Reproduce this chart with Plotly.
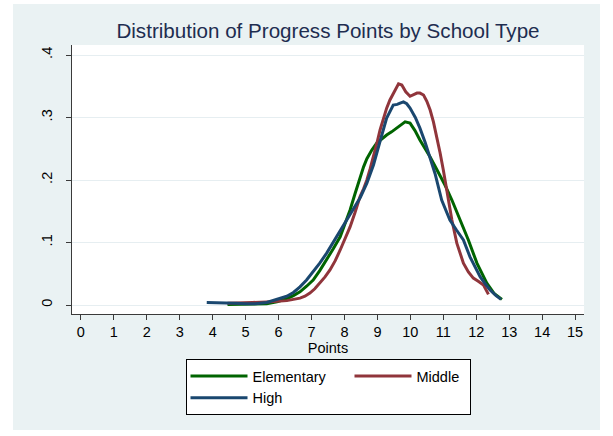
import plotly.graph_objects as go

# --- data (kernel density of progress points) ---
elem_x = [4.45, 4.62, 5.0, 5.3, 5.64, 5.95, 6.25, 6.45, 6.65, 6.85, 7.05, 7.25, 7.46, 7.66,
          7.87, 8.02, 8.17, 8.32, 8.47, 8.58, 8.68, 8.83, 8.98, 9.13, 9.28, 9.43, 9.59,
          9.72, 9.84, 9.99, 10.14, 10.29, 10.45, 10.6, 10.75, 10.9, 11.05, 11.26, 11.51,
          11.76, 12.02, 12.32, 12.55, 12.78]
elem_y = [.001, .001, .001, .001, .002, .005, .010, .015, .021, .030, .040, .055, .072, .090,
          .109, .130, .152, .178, .204, .221, .234, .248, .259, .266, .272, .277, .283,
          .289, .293, .291, .279, .264, .251, .237, .222, .208, .192, .168, .136,
          .104, .067, .035, .018, .009]

mid_x = [4.45, 4.8, 5.2, 5.64, 6.0, 6.25, 6.45, 6.65, 6.8, 6.95, 7.1, 7.26, 7.41, 7.56, 7.72,
         7.87, 8.02, 8.17, 8.32, 8.47, 8.58, 8.68, 8.78, 8.88, 8.98, 9.08, 9.18, 9.28, 9.38,
         9.48, 9.56, 9.64, 9.74, 9.86, 9.99, 10.1, 10.2, 10.29, 10.4, 10.5, 10.6, 10.7, 10.8,
         10.9, 11.0, 11.1, 11.26, 11.41, 11.61, 11.76, 11.91, 12.06, 12.22, 12.37]
mid_y = [.003, .003, .004, .005, .006, .007, .009, .011, .014, .019, .026, .035, .045, .056, .071,
         .088, .106, .125, .148, .173, .186, .200, .218, .237, .258, .280, .298, .315, .328,
         .339, .347, .354, .352, .341, .334, .336, .339, .339, .336, .326, .312, .293, .270,
         .244, .216, .185, .136, .099, .067, .053, .043, .038, .032, .017]

high_x = [3.82, 4.1, 4.42, 4.7, 5.0, 5.3, 5.64, 5.95, 6.25, 6.45, 6.65, 6.85, 7.05, 7.25, 7.46,
          7.66, 7.87, 8.07, 8.27, 8.48, 8.68, 8.88, 9.08, 9.28, 9.48, 9.6, 9.69, 9.79, 9.89,
          9.99, 10.15, 10.29, 10.45, 10.6, 10.75, 10.95, 11.2, 11.4, 11.61, 11.81, 12.0,
          12.12, 12.3, 12.42, 12.6, 12.75]
high_y = [.004, .004, .004, .003, .002, .002, .004, .009, .014, .020, .029, .040, .053, .067, .083,
          .100, .118, .135, .152, .172, .195, .224, .262, .299, .320, .321, .323, .325, .322,
          .315, .300, .283, .260, .235, .210, .168, .136, .120, .104, .077, .057,
          .045, .032, .024, .015, .009]

x_ticks = list(range(16))
y_ticks = [0, 0.1, 0.2, 0.3, 0.4]
y_ticktext = ["0", ".1", ".2", ".3", ".4"]

FONT = "Arial, Liberation Sans, sans-serif"
BG = "#eaf2f3"
AXIS = "#3a3a3a"

fig = go.Figure()
fig.add_trace(go.Scatter(x=elem_x, y=elem_y, mode="lines", name="Elementary",
                         legendgroup="a", legendwidth=92,
                         line=dict(color="#006400", width=3)))
fig.add_trace(go.Scatter(x=mid_x, y=mid_y, mode="lines", name="Middle",
                         legendgroup="b", legendwidth=48,
                         line=dict(color="#90353b", width=3)))
fig.add_trace(go.Scatter(x=high_x, y=high_y, mode="lines", name="High",
                         legendgroup="a", legendwidth=92,
                         line=dict(color="#1a476f", width=3)))

# light graph-region background (Stata s2color look), white plot region on top
fig.add_shape(type="rect", xref="paper", yref="paper", layer="below",
              x0=(13 - 72) / 512, x1=(600 - 72) / 512,
              y0=(314 - 430) / 269, y1=(314 - 4) / 269,
              fillcolor=BG, line=dict(width=0))
fig.add_shape(type="rect", xref="paper", yref="paper", layer="below",
              x0=0, x1=1, y0=0, y1=1, fillcolor="white", line=dict(width=0))

fig.update_layout(
    width=613, height=436,
    margin=dict(l=72, r=29, t=45, b=122, autoexpand=False),
    paper_bgcolor="white", plot_bgcolor="white",
    font=dict(family=FONT, size=14.5, color="black"),
    title=dict(text="Distribution of Progress Points by School Type",
               font=dict(family=FONT, size=20.6, color="#1e2d50"),
               x=0.5, xref="paper", xanchor="center",
               y=1 - 31 / 436, yref="container", yanchor="middle"),
    legend=dict(orientation="h", traceorder="grouped", tracegroupgap=0,
                x=0.5, xanchor="center", y=(314 - 359) / 269, yanchor="top",
                bgcolor="white", bordercolor="black", borderwidth=1,
                itemwidth=57, font=dict(family=FONT, size=14.5, color="black")),
    showlegend=True,
)
fig.update_xaxes(range=[-0.27, 15.27], tickvals=x_ticks, ticks="outside", ticklen=5,
                 tickcolor=AXIS, showline=True, linecolor=AXIS, linewidth=1,
                 showgrid=False, zeroline=False,
                 title=dict(text="Points", standoff=2, font=dict(size=14.5)))
fig.update_yaxes(range=[-0.0144, 0.416], tickvals=y_ticks, ticktext=y_ticktext,
                 tickangle=-90, ticks="outside", ticklen=5, tickcolor=AXIS,
                 ticklabelstandoff=8,
                 showline=True, linecolor=AXIS, linewidth=1,
                 showgrid=True, gridcolor="#e6eef1", gridwidth=1, zeroline=False)

# drop the browser's default body margin so the figure sits at the window origin
fig.write_html("out.html", config={"displayModeBar": False},
               post_script="document.body.style.margin='0';")
